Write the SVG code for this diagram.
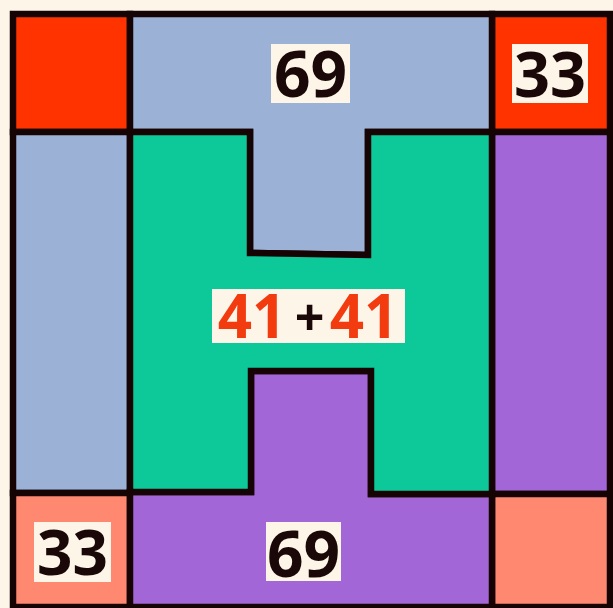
<svg xmlns="http://www.w3.org/2000/svg" width="613" height="608" viewBox="0 0 613 608">
<style>
.r{stroke:#160404;stroke-width:6.5;stroke-linejoin:miter}
.red{fill:#ff3300}.blue{fill:#9bb1d6}.green{fill:#0dc898}.purple{fill:#a366d6}.salmon{fill:#ff8870}
.lb{fill:#fdf5e8}
.t{font-family:"Open Sans","Noto Sans",sans-serif;font-weight:700;fill:#1a0808;text-anchor:middle}
.o{fill:#f23c10}
</style>
<rect x="0" y="0" width="613" height="608" fill="#fdf5e8"/>
<g id="top-left"><rect class="r red" x="13" y="14" width="117" height="118"/></g>
<g id="top-right"><rect class="r red" x="492" y="14" width="118" height="118"/></g>
<g id="left-column"><rect class="r blue" x="13" y="132" width="117" height="361"/></g>
<g id="right-column"><rect class="r purple" x="492" y="132" width="118" height="362"/></g>
<g id="bottom-left"><rect class="r salmon" x="13" y="493" width="117" height="114"/></g>
<g id="bottom-right"><rect class="r salmon" x="492" y="494" width="118" height="113"/></g>
<g id="top-band"><path class="r blue" d="M130,14 H492 V132 H368 V255 L250,253 V132 H130 Z"/></g>
<g id="bottom-band"><path class="r purple" d="M130,492 H251 V371 H371 V494 H492 V607 H130 Z"/></g>
<g id="h-shape"><path class="r green" d="M130,132 H250 V253 L368,255 V132 H492 V494 H371 V371 H251 V492 H130 Z"/></g>
<g id="label-top-69"><rect class="lb" x="271" y="44" width="79" height="59"/><text class="t" x="310.5" y="97" font-size="64">69</text></g>
<g id="label-top-33"><rect class="lb" x="512" y="44" width="76" height="59"/><text class="t" x="550" y="97" font-size="63">33</text></g>
<g id="label-bottom-33"><rect class="lb" x="34" y="522" width="77" height="60"/><text class="t" x="72.5" y="575" font-size="62">33</text></g>
<g id="label-bottom-69"><rect class="lb" x="266" y="522" width="75" height="59"/><text class="t" x="303.5" y="577" font-size="64">69</text></g>
<g id="label-center"><rect class="lb" x="212" y="289" width="193" height="54"/>
<text class="t o" x="252" y="338" font-size="60">41</text>
<text class="t" x="309.5" y="336" font-size="52" font-weight="400">+</text>
<text class="t o" x="364" y="338" font-size="60">41</text></g>
</svg>
